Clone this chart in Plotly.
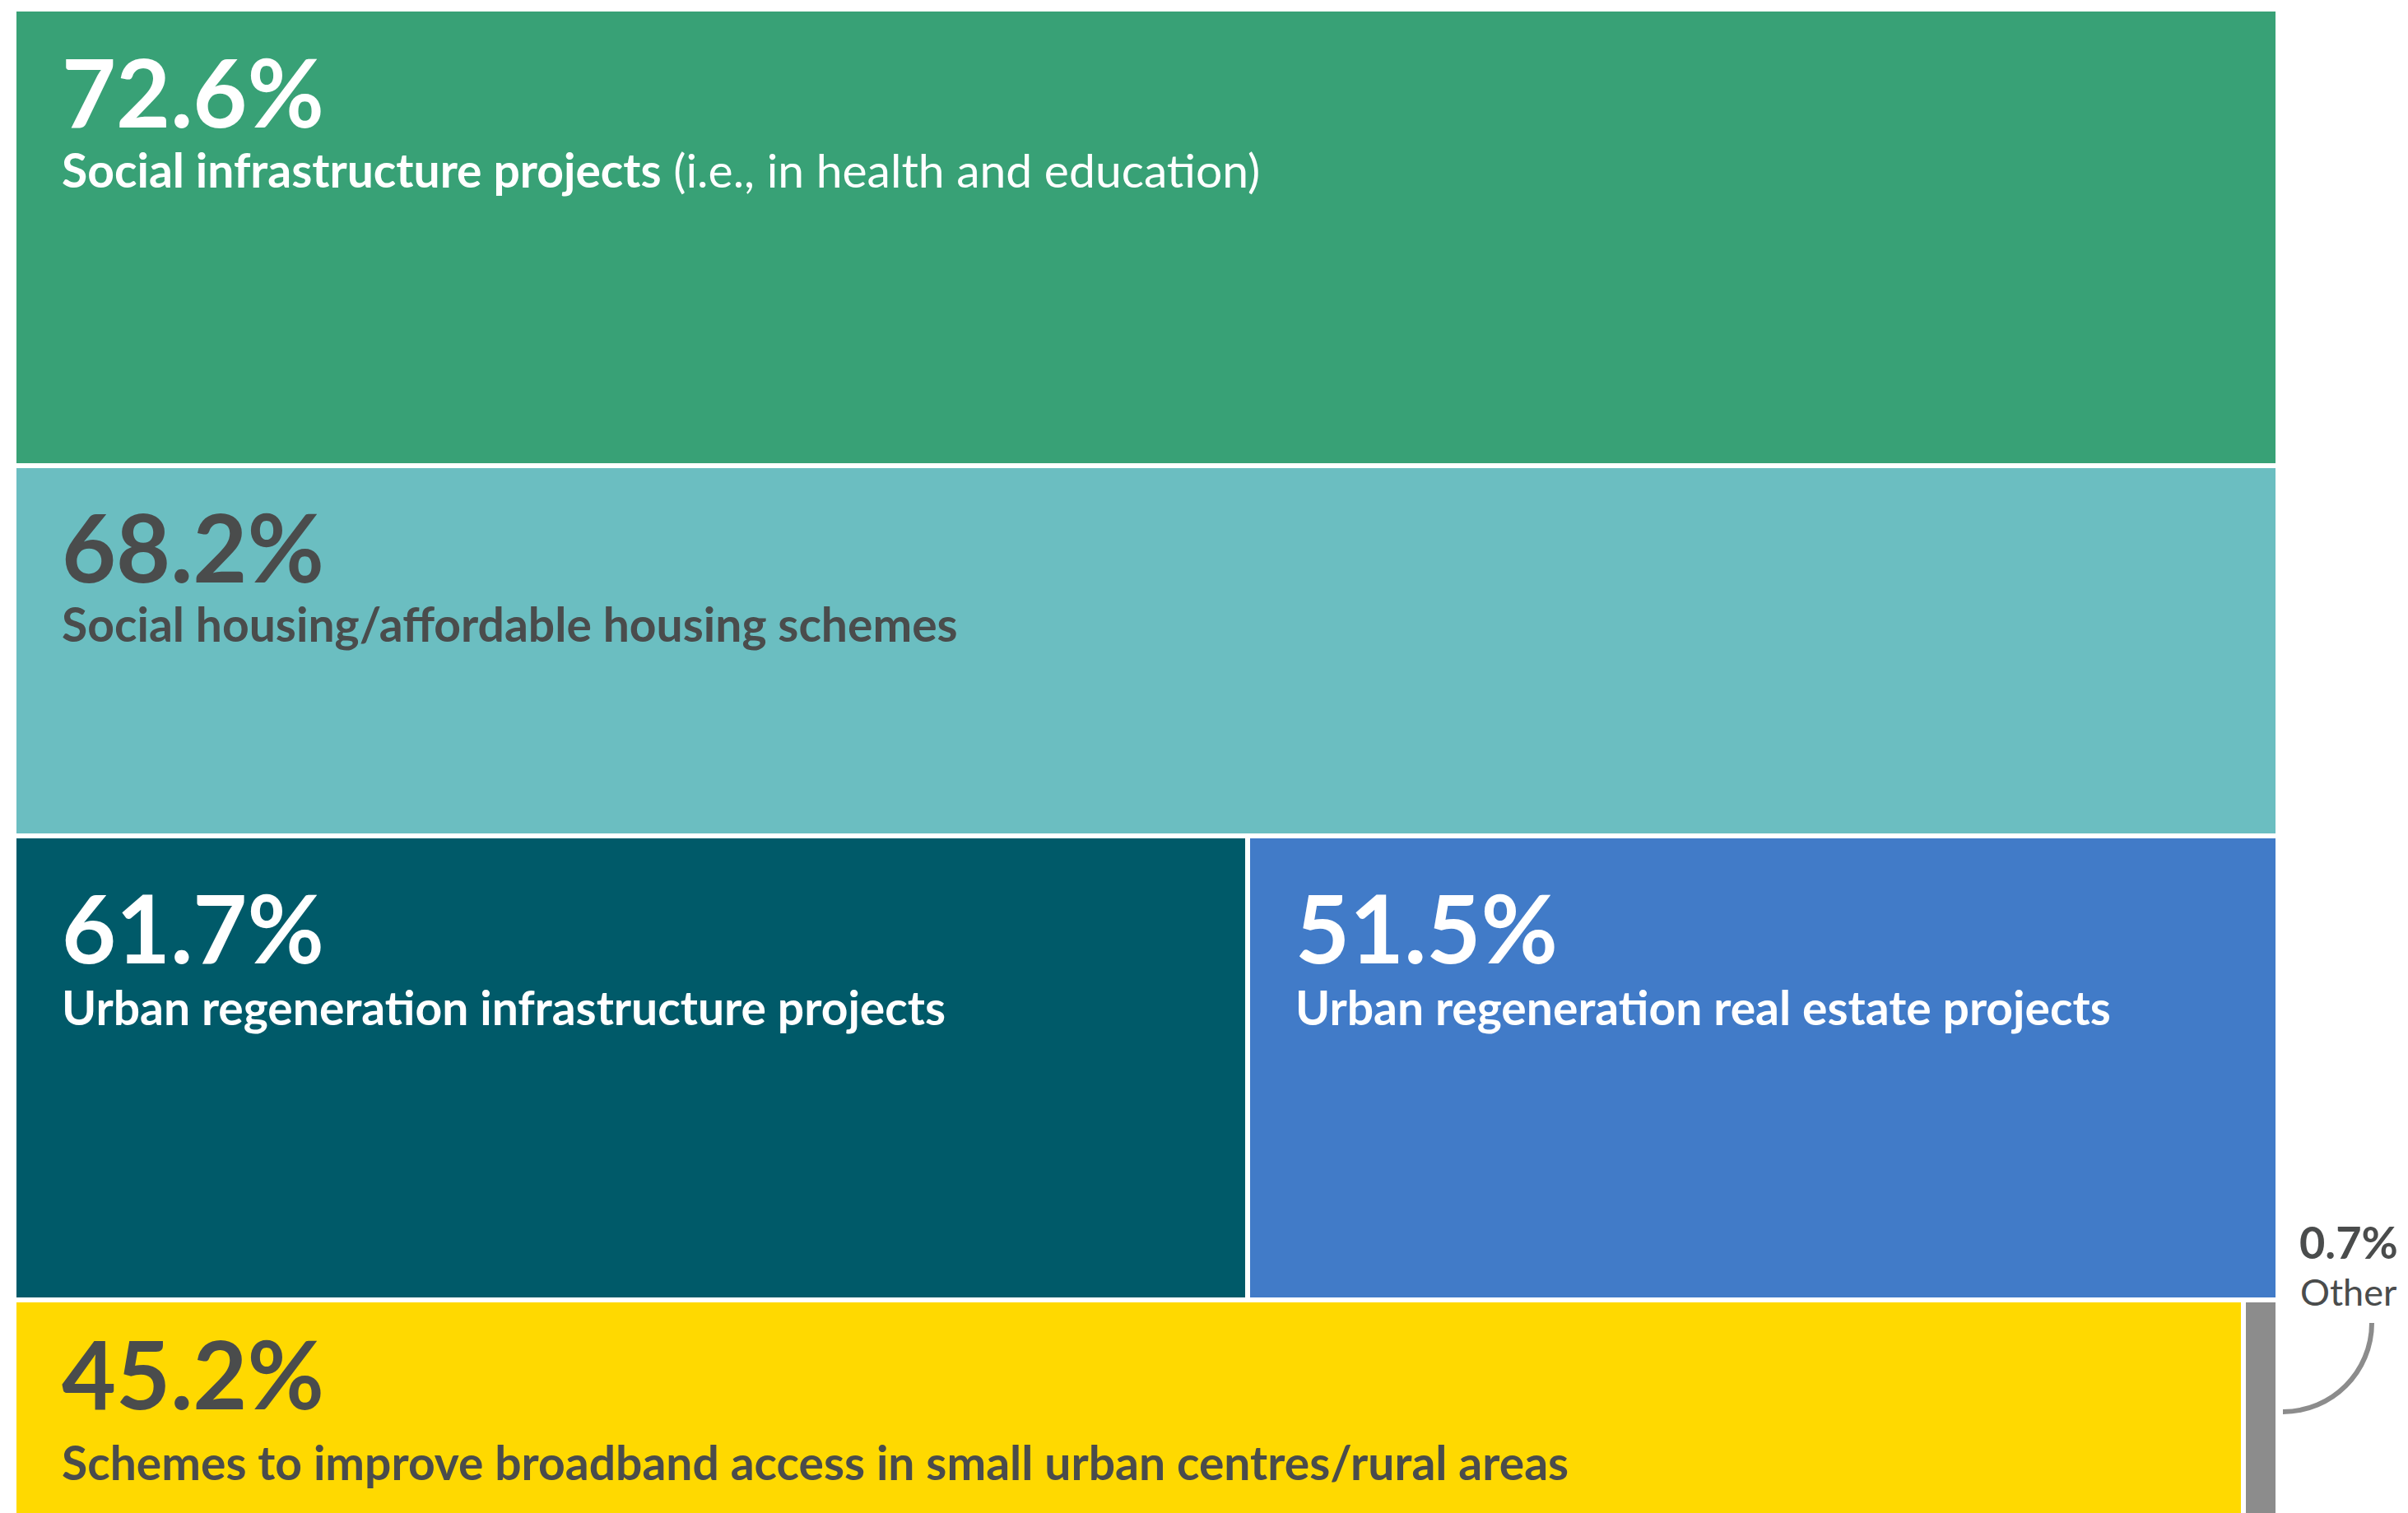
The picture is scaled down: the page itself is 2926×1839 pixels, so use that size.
import plotly.graph_objects as go

# ---------------- data ----------------
categories = [
    "Social infrastructure projects",
    "Social housing/affordable housing schemes",
    "Urban regeneration infrastructure projects",
    "Urban regeneration real estate projects",
    "Schemes to improve broadband access in small urban centres/rural areas",
    "Other",
]
notes = [" (i.e., in health and education)", "", "", "", "", ""]
values = [72.6, 68.2, 61.7, 51.5, 45.2, 0.7]
row_of = [0, 1, 2, 2, 3, 3]

# ---------------- style / layout ----------------
cell_colors = ["#38A176", "#6BBEC1", "#005A69", "#417BC8", "#FFD900", "#8C8C8C"]
text_colors = ["#FFFFFF", "#4A4C4C", "#FFFFFF", "#FFFFFF", "#4A4C4C", "#4A4C4C"]
row_heights = [555, 450, 564, 275]          # px, designed mosaic rows
num_top_offset = [64, 62, 75, 53]           # px from visible row top to digit top
label_gap = [73, 72, 75, 86]                # px between baselines
OFF = 8                                     # page body margin
FIG_W, FIG_H = 2926 - OFF, 1839 - OFF
PLOT_L, PLOT_R, PLOT_T = 17 - OFF, 2768 - OFF, 11 - OFF
GAP = 6
TEXT_PAD = 54
FONT = "Lato"
NUM_SIZE = 114
LAB_SIZE = 57
DESC = 0.213
DARK = "#4A4C4C"

plot_w = PLOT_R - PLOT_L
plot_h = FIG_H - PLOT_T

# row geometry
row_tops = []
acc = 0
for h in row_heights:
    row_tops.append(acc)
    acc += h
row_tot = {}
for r, v in zip(row_of, values):
    row_tot[r] = row_tot.get(r, 0) + v

bases, shares = [], []
cum = {}
for r, v in zip(row_of, values):
    s = v / row_tot[r]
    bases.append(cum.get(r, 0.0))
    shares.append(s)
    cum[r] = cum.get(r, 0.0) + s

fig = go.Figure()
fig.add_trace(go.Bar(
    orientation="h",
    x=shares,
    base=bases,
    y=[row_tops[r] + row_heights[r] / 2 for r in row_of],
    width=[row_heights[r] for r in row_of],
    marker=dict(color=cell_colors, line=dict(color="white", width=GAP)),
    hovertext=[f"{c}: {v}%" for c, v in zip(categories, values)],
    hoverinfo="text",
    showlegend=False,
))

annotations = []
for i, (cat, note, v, r) in enumerate(zip(categories, notes, values, row_of)):
    if cat == "Other":
        continue
    vis_top = row_tops[r] + GAP / 2           # in y-axis units (px from plot top)
    num_base = vis_top + num_top_offset[r] + 78
    lab_base = num_base + label_gap[r]
    x_left = bases[i] + (GAP / 2 + TEXT_PAD) / plot_w
    annotations.append(dict(
        x=x_left, y=num_base + NUM_SIZE * DESC, xref="x", yref="y",
        xanchor="left", yanchor="bottom", showarrow=False, borderpad=0,
        text=f"<b>{v}%</b>",
        font=dict(family=FONT, size=NUM_SIZE, color=text_colors[i]),
    ))
    label = f"<b>{cat}</b>" + note
    annotations.append(dict(
        x=x_left, y=lab_base + LAB_SIZE * DESC, xref="x", yref="y",
        xanchor="left", yanchor="bottom", showarrow=False, borderpad=0,
        text=label,
        font=dict(family=FONT, size=LAB_SIZE, color=text_colors[i]),
    ))

# "Other" callout (outside the plot area, paper coordinates; window px in)
def px_x(px):
    return (px - OFF - PLOT_L) / plot_w

def px_y(py):
    return 1 - (py - OFF - PLOT_T) / plot_h

oi = categories.index("Other")
annotations.append(dict(
    x=px_x(2793), y=px_y(1531 + 54 * DESC), xref="paper", yref="paper",
    xanchor="left", yanchor="bottom", showarrow=False, borderpad=0,
    text=f"<b>{values[oi]}%</b>",
    font=dict(family=FONT, size=54, color=DARK),
))
annotations.append(dict(
    x=px_x(2794), y=px_y(1588 + 45 * DESC), xref="paper", yref="paper",
    xanchor="left", yanchor="bottom", showarrow=False, borderpad=0,
    text=categories[oi],
    font=dict(family=FONT, size=45, color=DARK),
))

cx, cy, rad = 2774, 1608, 108
k = 0.5523 * rad
path = (f"M {px_x(cx + rad)},{px_y(cy)} "
        f"C {px_x(cx + rad)},{px_y(cy + k)} {px_x(cx + k)},{px_y(cy + rad)} {px_x(cx)},{px_y(cy + rad)}")

fig.update_layout(
    width=FIG_W, height=FIG_H,
    margin=dict(l=PLOT_L, r=FIG_W - PLOT_R, t=PLOT_T, b=0, pad=0),
    paper_bgcolor="white", plot_bgcolor="white",
    bargap=0,
    xaxis=dict(range=[0, 1], visible=False, fixedrange=True),
    yaxis=dict(range=[plot_h, 0], visible=False, fixedrange=True),
    annotations=annotations,
    shapes=[dict(type="path", path=path, xref="paper", yref="paper",
                 line=dict(color="#8C8C8C", width=6))],
    font=dict(family=FONT),
)

fig.write_html("out.html")
